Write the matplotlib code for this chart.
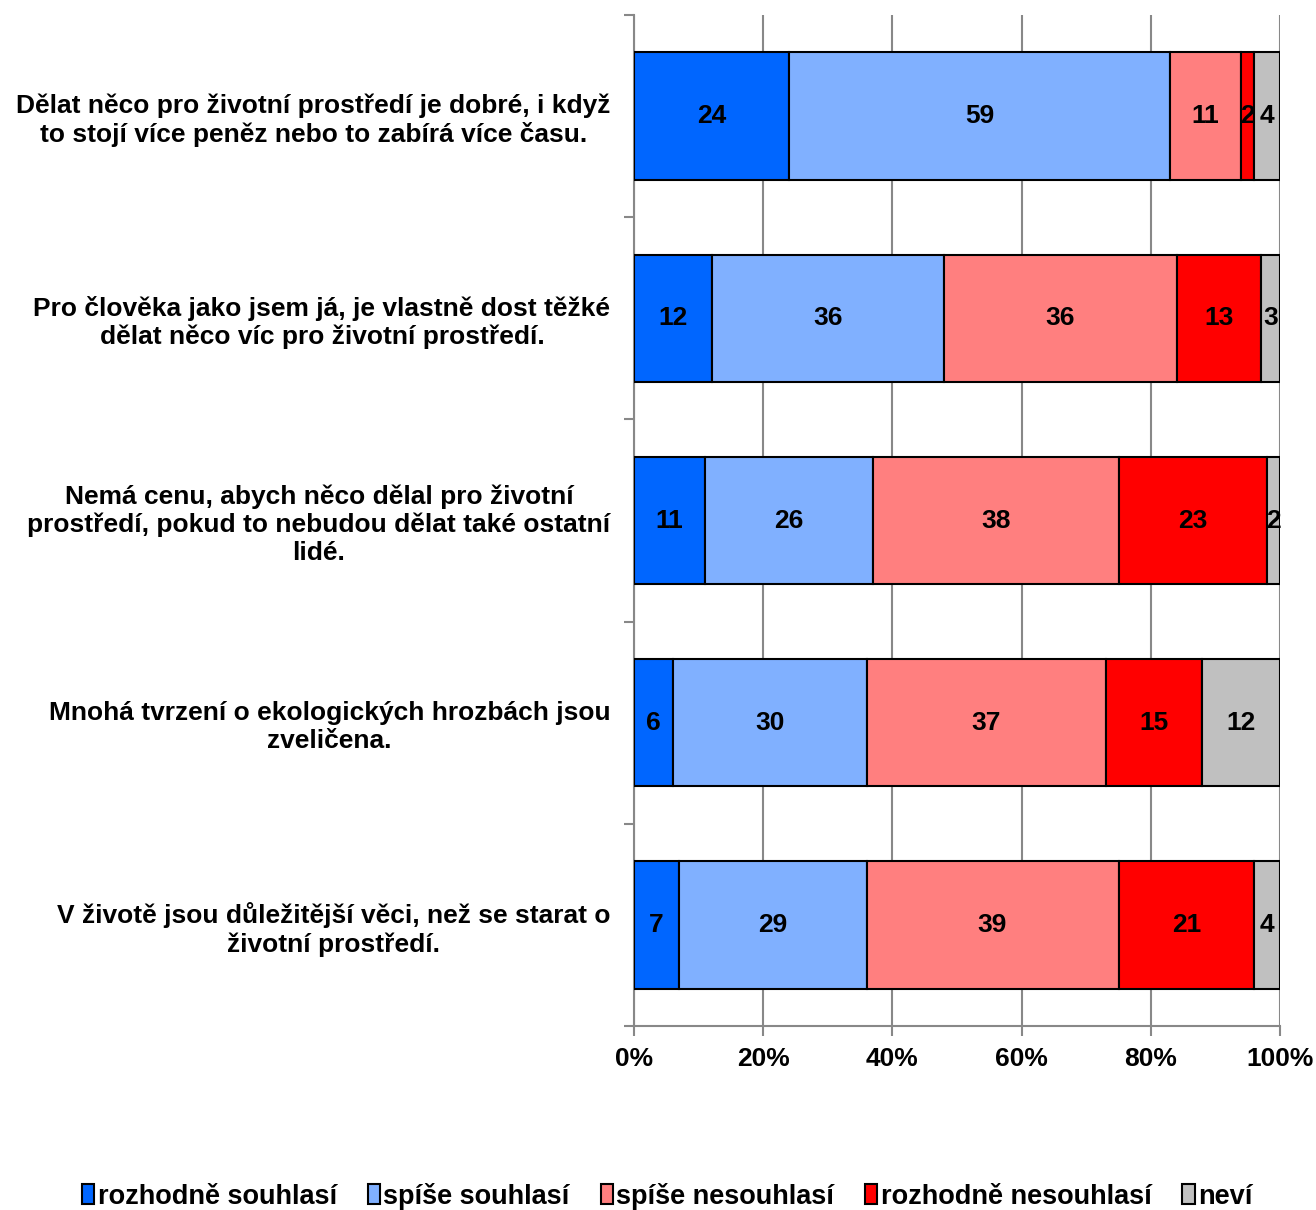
import matplotlib
matplotlib.use("Agg")
import matplotlib.pyplot as plt
import numpy as np

plt.rcParams['font.family'] = ['Liberation Sans', 'DejaVu Sans']
plt.rcParams['font.weight'] = 'bold'

categories = [
    "Dělat něco pro životní prostředí je dobré, i když\nto stojí více peněz nebo to zabírá více času.",
    "Pro člověka jako jsem já, je vlastně dost těžké\ndělat něco víc pro životní prostředí.",
    "Nemá cenu, abych něco dělal pro životní\nprostředí, pokud to nebudou dělat také ostatní\nlidé.",
    "Mnohá tvrzení o ekologických hrozbách jsou\nzveličena.",
    "V životě jsou důležitější věci, než se starat o\nživotní prostředí.",
]
series_names = ["rozhodně souhlasí", "spíše souhlasí", "spíše nesouhlasí", "rozhodně nesouhlasí", "neví"]
rozhodne_souhlasi = [24, 12, 11, 6, 7]
spise_souhlasi = [59, 36, 26, 30, 29]
spise_nesouhlasi = [11, 36, 38, 37, 39]
rozhodne_nesouhlasi = [2, 13, 23, 15, 21]
nevi = [4, 3, 2, 12, 4]
series = [rozhodne_souhlasi, spise_souhlasi, spise_nesouhlasi, rozhodne_nesouhlasi, nevi]
colors = ["#0066FF", "#80B0FF", "#FF7F7F", "#FF0000", "#C0C0C0"]
xticklabels = ["0%", "20%", "40%", "60%", "80%", "100%"]

FS = 19
fig = plt.figure(figsize=(13.16, 12.10), dpi=100)
ax = fig.add_axes([634/1316, 1 - 1026/1210, (1280-634)/1316, (1026-15)/1210])

n = len(categories)
y = np.arange(n)
left = np.zeros(n)
for vals, col, name in zip(series, colors, series_names):
    vals = np.array(vals, dtype=float)
    bars = ax.barh(y, vals, left=left, height=0.63, color=col, edgecolor='black',
                   linewidth=1.5, label=name, zorder=3)
    for b, v, l in zip(bars, vals, left):
        ax.text(l + v / 2, b.get_y() + b.get_height() / 2, f"{int(v)}",
                ha='center', va='center', fontsize=FS, fontweight='bold', zorder=4)
    left += vals

ax.set_xlim(0, 100)
ax.set_ylim(n - 0.5, -0.5)
ax.set_xticks([0, 20, 40, 60, 80, 100])
ax.set_xticklabels(xticklabels, fontsize=FS, fontweight='bold')
ax.set_yticks(y)
ax.set_yticklabels(categories, fontsize=FS, fontweight='bold', ha='right', multialignment='center')
ax.tick_params(axis='y', length=0, pad=17)
ax.set_yticks(np.arange(-0.5, n, 1), minor=True)
ax.tick_params(axis='y', which='minor', length=7, color='#888888', width=1.5)
ax.tick_params(axis='x', length=7, color='#888888', width=1.5, pad=8)
ax.grid(axis='x', color='#888888', linewidth=1.5, zorder=0)
for s in ['top', 'right']:
    ax.spines[s].set_visible(False)
for s in ['left', 'bottom']:
    ax.spines[s].set_color('#888888')
    ax.spines[s].set_linewidth(1.5)

leg = fig.legend(loc='lower center', bbox_to_anchor=(0.507, -0.02), ncol=5, frameon=False,
                 handlelength=0.45, handleheight=0.75, handletextpad=0.12,
                 columnspacing=1.15, prop={'weight': 'bold', 'size': 19.5})
for h in leg.legend_handles:
    h.set_linewidth(1.5)

fig.savefig("out.png", dpi=100)
